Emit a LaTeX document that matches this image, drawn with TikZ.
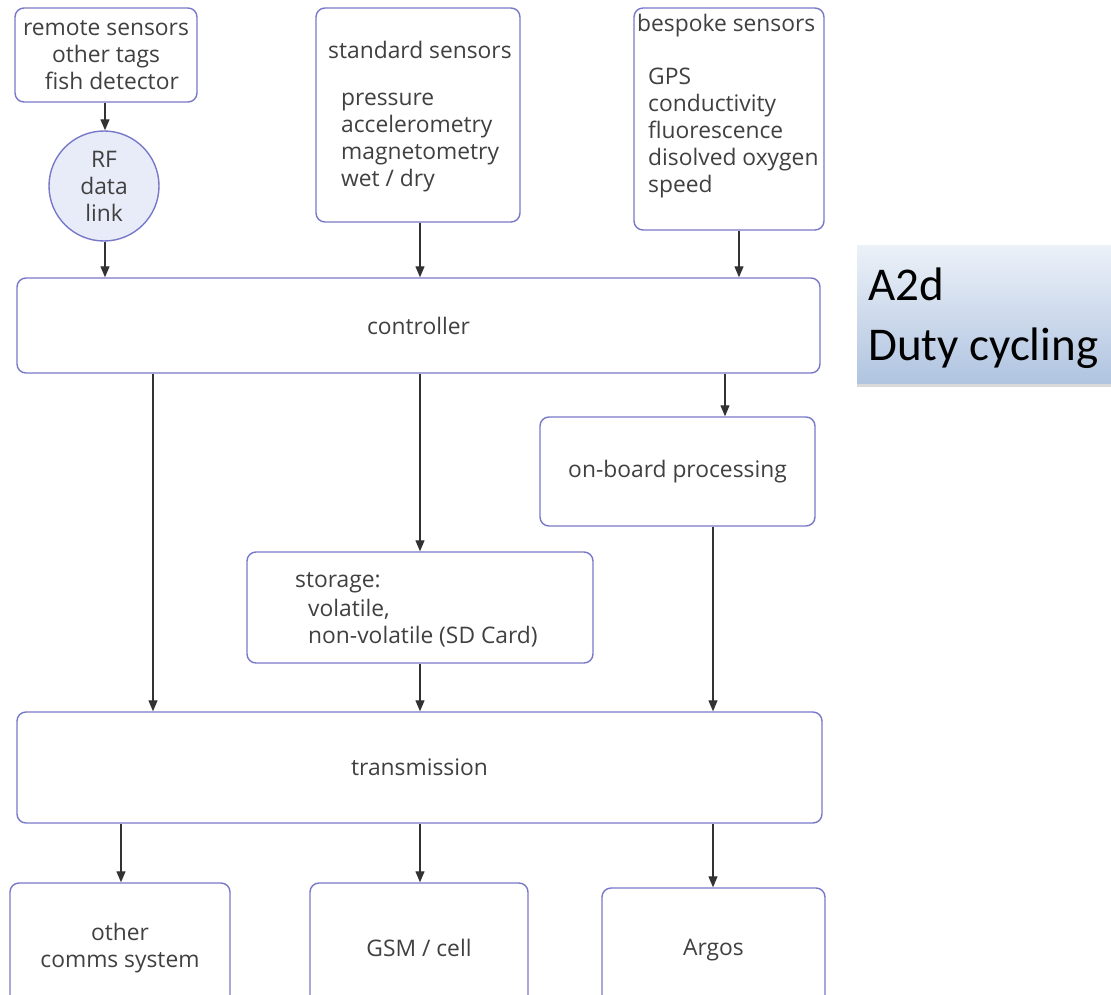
\documentclass[tikz,border=0pt]{standalone}
\usepackage{fontspec}
\setmainfont{Open Sans}
\newfontfamily\labelfont{Carlito}
\usetikzlibrary{arrows.meta,shadows}
\definecolor{boxline}{RGB}{120,120,200}
\definecolor{txt}{RGB}{64,64,64}
\definecolor{rffill}{RGB}{232,236,248}
\definecolor{gradtop}{RGB}{236,241,248}
\definecolor{gradbot}{RGB}{176,196,224}
\definecolor{arrcol}{RGB}{50,50,50}
\tikzset{
  box/.style={draw=boxline, line width=1.4pt, rounded corners=9pt, fill=white, inner sep=0pt, text=txt, align=center},
  txtnode/.style={text=txt, inner sep=0pt, align=left},
  arr/.style={draw=arrcol, line width=1.2pt, -{Triangle[length=11pt,width=9pt]}},
  labtext/.style={text=black, inner sep=0pt, anchor=base west, font=\labelfont\fontsize{47}{57}\selectfont},
}
\begin{document}
\begin{tikzpicture}[x=1pt,y=-1pt,font=\fontsize{22.8}{27}\selectfont]
\useasboundingbox (0,0) rectangle (1111,995);
% nodes
\node[box, minimum width=182, minimum height=94] (remote) at (106,55) {remote sensors\\other tags\\\ \ fish detector};
\node[draw=boxline, line width=1.4pt, fill=rffill, circle, minimum size=110, inner sep=0pt, text=txt, align=center] (rf) at (104,186) {RF\\data\\link};
\node[box, minimum width=204, minimum height=214] (std) at (418,115) {};
\node[txtnode, anchor=west] (stdh) at (328,50) {standard sensors};
\node[txtnode, anchor=west] (stdl) at (341,143) {pressure\\accelerometry\\magnetometry\\wet / dry};
\node[box, minimum width=190, minimum height=222] (besp) at (729,119) {};
\node[txtnode, anchor=west] (bsph) at (637,26) {bespoke sensors};
\node[txtnode, anchor=west] (bspl) at (648,133) {GPS\\conductivity\\fluorescence\\disolved oxygen\\speed};
\node[box, minimum width=803, minimum height=95] (ctrl) at (418.5,325.5) {controller};
\node[box, minimum width=275, minimum height=109] (obp) at (677.5,471.5) {on-board processing};
\node[box, minimum width=346, minimum height=111] (stor) at (420,607.5) {};
\node[txtnode, anchor=west] (storh) at (295,583) {storage:};
\node[txtnode, anchor=west] (storl) at (308,623.5) {volatile,\\non-volatile (SD Card)};
\node[box, minimum width=805, minimum height=111] (trans) at (419.5,767.5) {transmission};
\node[box, minimum width=220, minimum height=130] (other) at (120,948) {other\\comms system};
\node[box, minimum width=218, minimum height=130] (gsm) at (419,948) {GSM / cell};
\node[box, minimum width=223, minimum height=125] (argos) at (713.5,950.5) {Argos};
% label
\node[anchor=north west, minimum width=270, minimum height=138, inner sep=0pt,
      top color=gradtop, bottom color=gradbot,
      drop shadow={shadow xshift=0pt, shadow yshift=-4pt, opacity=0.3}] (lab) at (857,245) {};
\node[labtext] (lab1) at (868,300) {A2d};
\node[labtext] (lab2) at (868,360) {Duty cycling};
% helper x coordinates
\coordinate (x153) at (153,0);
\coordinate (x420) at (420,0);
\coordinate (x739) at (739,0);
\coordinate (x725) at (725,0);
\coordinate (x713) at (713,0);
\coordinate (x121) at (121,0);
\coordinate (x105) at (105,0);
% connectors
\draw[arr] (remote.south -| x105) -- (rf.north -| x105);
\draw[arr] (rf.south -| x105) -- (ctrl.north -| x105);
\draw[arr] (std.south -| x420) -- (ctrl.north -| x420);
\draw[arr] (besp.south -| x739) -- (ctrl.north -| x739);
\draw[arr] (ctrl.south -| x153) -- (trans.north -| x153);
\draw[arr] (ctrl.south -| x420) -- (stor.north -| x420);
\draw[arr] (ctrl.south -| x725) -- (obp.north -| x725);
\draw[arr] (stor.south -| x420) -- (trans.north -| x420);
\draw[arr] (obp.south -| x713) -- (trans.north -| x713);
\draw[arr] (trans.south -| x121) -- (other.north -| x121);
\draw[arr] (trans.south -| x420) -- (gsm.north -| x420);
\draw[arr] (trans.south -| x713) -- (argos.north -| x713);
\end{tikzpicture}
\end{document}
